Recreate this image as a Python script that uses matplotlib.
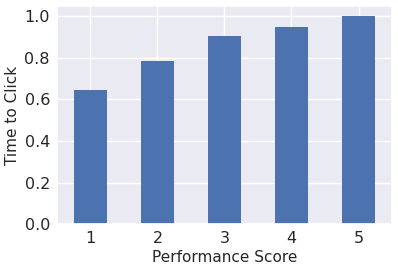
import pandas as pd
import matplotlib
matplotlib.use("Agg")
import matplotlib.pyplot as plt
import seaborn as sns

sns.set_theme(style="darkgrid")
plt.rcParams.update({"xtick.labelsize": 11.5, "ytick.labelsize": 11.5,
                     "axes.labelsize": 11, "xtick.major.size": 0,
                     "ytick.major.size": 0, "xtick.major.pad": 5,
                     "ytick.major.pad": 5, "axes.labelpad": 3})

scores = [1, 2, 3, 4, 5]
times = [0.644, 0.785, 0.907, 0.951, 1.0]

df = pd.DataFrame({"Performance Score": scores, "Time to Click": times})

fig, ax = plt.subplots(figsize=(3.98, 2.72), dpi=100)
df.plot.bar(x="Performance Score", y="Time to Click", ax=ax, legend=False,
            color="#4C72B0", rot=0, linewidth=0)
ax.set_ylabel("Time to Click")
ax.set_xlabel("Performance Score")
ax.set_ylim(0, 1.05)
ax.set_yticks([0.0, 0.2, 0.4, 0.6, 0.8, 1.0])
fig.subplots_adjust(left=0.143, right=0.985, top=0.978, bottom=0.176)
fig.savefig("out.png", dpi=100)
